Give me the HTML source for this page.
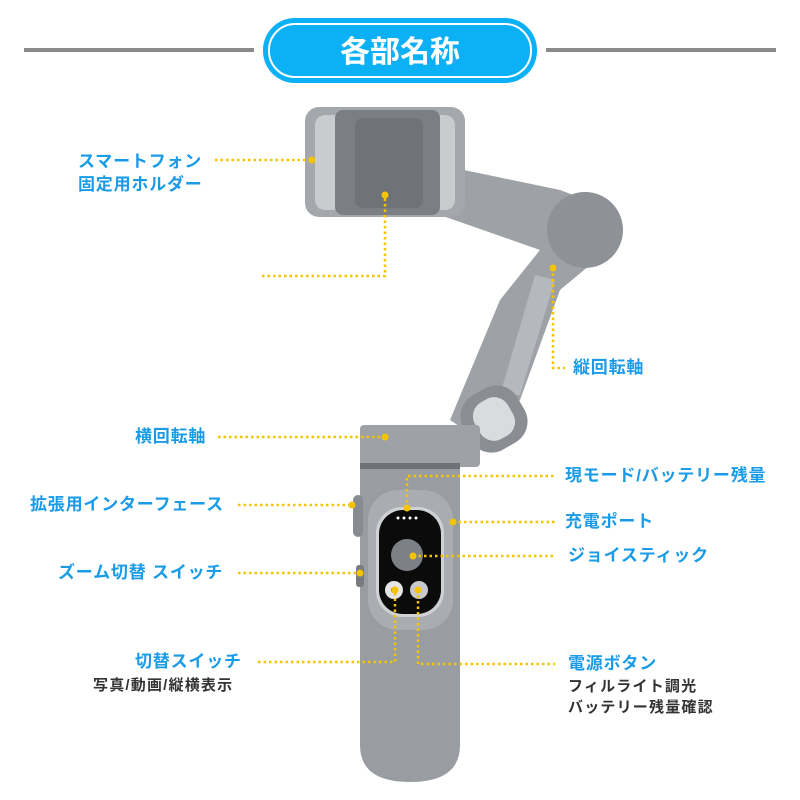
<!DOCTYPE html>
<html><head><meta charset="utf-8"><style>
body{margin:0;width:800px;height:800px;background:#fff;position:relative;overflow:hidden;font-family:"Liberation Sans","Noto Sans CJK JP",sans-serif}
.l{position:absolute;color:#1a9be8;font-weight:bold;font-size:17px;letter-spacing:0.8px;white-space:nowrap;line-height:20px}
.k{position:absolute;color:#333;font-weight:bold;font-size:15px;letter-spacing:1.2px;white-space:nowrap;line-height:20px}
</style></head><body>
<svg width="800" height="800" style="position:absolute;left:0;top:0">
<rect x="24" y="48" width="230" height="4" fill="#8a8a8a"/>
<rect x="546" y="48" width="230" height="4" fill="#8a8a8a"/>
<rect x="263" y="18" width="274" height="65" rx="32" fill="#0cb0f5"/>
<rect x="269" y="24" width="262" height="53" rx="26" fill="none" stroke="#fff" stroke-width="2"/>
<text x="400" y="62" text-anchor="middle" font-size="30" font-weight="bold" fill="#fff" font-family="Liberation Sans,Noto Sans CJK JP,sans-serif">各部名称</text>
<!-- arm -->
<path d="M440 165 L560 190 L600 205 L620 240 L560 290 L520 400 L480 440 L450 420 L500 300 L540 250 L440 215 Z" fill="#9ea1a5"/>
<circle cx="585" cy="230" r="38" fill="#8e9196"/>
<path d="M555 280 L520 395 L500 395 L535 275 Z" fill="#b5b8bc"/>
<rect x="463" y="388" width="62" height="62" rx="24" fill="#8a8d92" transform="rotate(-30 494 419)"/>
<rect x="475" y="398" width="38" height="42" rx="16" fill="#d9dbde" transform="rotate(-30 494 419)"/>
<!-- phone holder -->
<rect x="305" y="107" width="160" height="110" rx="14" fill="#a4a7ab"/>
<rect x="315" y="115" width="140" height="95" rx="10" fill="#c9cbce"/>
<rect x="335" y="110" width="105" height="105" rx="8" fill="#7b7f84"/>
<rect x="355" y="118" width="68" height="90" rx="8" fill="#6f7378"/>
<!-- handle -->
<rect x="360" y="425" width="120" height="42" rx="4" fill="#9ea2a6"/>
<rect x="360" y="463" width="100" height="6" fill="#6e7176"/>
<path d="M360 469 H460 V745 Q460 782 410 782 Q360 782 360 745 Z" fill="#999ca1"/>
<rect x="368" y="490" width="85" height="140" rx="30" fill="#a9acb0"/>
<rect x="353" y="495" width="10" height="42" rx="5" fill="#888b90"/>
<rect x="356" y="565" width="8" height="22" rx="3" fill="#777a7f"/>
<rect x="376" y="507" width="68" height="110" rx="26" fill="#cfd1d4"/>
<rect x="379" y="510" width="62" height="104" rx="24" fill="#0b0b0b"/>
<circle cx="407" cy="555" r="16" fill="#7d8186"/>
<circle cx="394" cy="590" r="9" fill="#e5e5e5"/><circle cx="394" cy="590" r="3" fill="#e44"/>
<circle cx="419" cy="590" r="9" fill="#c7c9cc"/>
<g fill="#fff"><circle cx="398" cy="518" r="1.5"/><circle cx="404" cy="518" r="1.5"/><circle cx="410" cy="518" r="1.5"/><circle cx="416" cy="518" r="1.5"/></g>
<!-- leaders -->
<g stroke="#f5c400" stroke-width="2.5" stroke-dasharray="2.5 3" fill="none">
<path d="M215 160 H312"/>
<path d="M262 276 H385 V195"/>
<path d="M553 268 V368 H565"/>
<path d="M218 437 H385"/>
<path d="M407 508 V476 H555"/>
<path d="M453 522 H555"/>
<path d="M238 505 H352"/>
<path d="M413 556 H555"/>
<path d="M238 573 H360"/>
<path d="M258 662 H395 V590"/>
<path d="M418 590 V664 H555"/>
</g>
<g fill="#f5c400">
<circle cx="312" cy="160" r="3.5"/><circle cx="385" cy="195" r="3.5"/><circle cx="553" cy="268" r="3.5"/>
<circle cx="385" cy="437" r="3.5"/><circle cx="407" cy="508" r="3.5"/><circle cx="453" cy="522" r="3.5"/>
<circle cx="352" cy="505" r="3.5"/><circle cx="413" cy="556" r="3.5"/><circle cx="360" cy="573" r="3.5"/>
<circle cx="395" cy="590" r="3.5"/><circle cx="418" cy="590" r="3.5"/>
</g>
</svg>
<div class="l" style="left:78px;top:152px">スマートフォン</div>
<div class="l" style="left:78px;top:175px">固定用ホルダー</div>
<div class="l" style="left:573px;top:358px">縦回転軸</div>
<div class="l" style="left:135px;top:427px">横回転軸</div>
<div class="l" style="left:565px;top:466px">現モード/バッテリー残量</div>
<div class="l" style="left:30px;top:495px">拡張用インターフェース</div>
<div class="l" style="left:565px;top:512px">充電ポート</div>
<div class="l" style="left:568px;top:546px">ジョイスティック</div>
<div class="l" style="left:58px;top:563px">ズーム切替 スイッチ</div>
<div class="l" style="left:135px;top:652px">切替スイッチ</div>
<div class="k" style="left:93px;top:676px">写真/動画/縦横表示</div>
<div class="l" style="left:568px;top:654px">電源ボタン</div>
<div class="k" style="left:568px;top:677px">フィルライト調光</div>
<div class="k" style="left:568px;top:698px">バッテリー残量確認</div>
</body></html>
